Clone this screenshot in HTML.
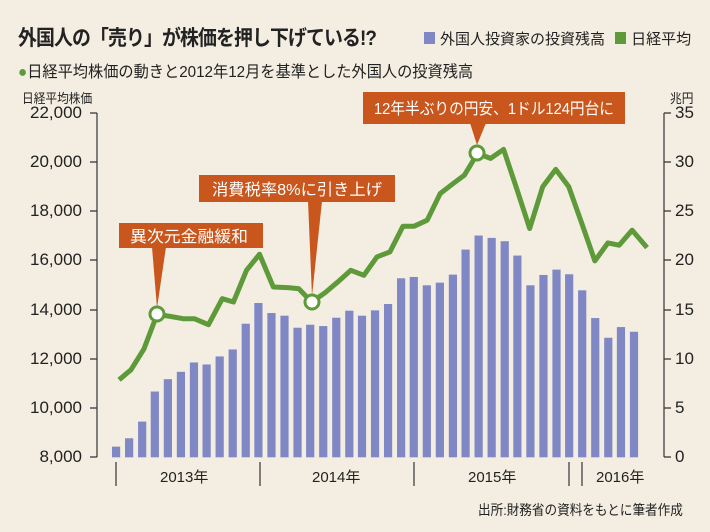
<!DOCTYPE html><html><head><meta charset="utf-8"><style>
body{margin:0;width:710px;height:532px;background:#f3eee1;font-family:"Liberation Sans","Noto Sans CJK JP",sans-serif;position:relative;overflow:hidden;color:#222}
.t{position:absolute;white-space:nowrap}
.c{transform-origin:0 0;transform:scaleX(0.9)}
</style></head><body>
<div class="t c" style="left:18px;top:22px;font-size:21px;font-weight:bold;letter-spacing:-1px;transform:scaleX(0.9)">外国人の「売り」が株価を押し下げている!?</div>
<div class="t c" style="left:424px;top:28px;font-size:15px;transform:none"><span style="display:inline-block;width:11px;height:12px;background:#8087c5;margin-right:5px"></span>外国人投資家の投資残高 <span style="display:inline-block;width:11px;height:12px;background:#5e9a3a;margin:0 5px 0 6px"></span>日経平均</div>
<div class="t c" style="left:18px;top:58px;font-size:16px;transform:scaleX(0.95)"><span style="color:#5e9a3a">●</span>日経平均株価の動きと2012年12月を基準とした外国人の投資残高</div>
<div class="t c" style="left:22px;top:88px;font-size:13px">日経平均株価</div>
<div class="t c" style="left:670px;top:88px;font-size:13px">兆円</div>
<div class="t" style="left:0;width:82px;text-align:right;top:104px;font-size:17px;line-height:18px">22,000</div>
<div class="t" style="left:0;width:82px;text-align:right;top:153px;font-size:17px;line-height:18px">20,000</div>
<div class="t" style="left:0;width:82px;text-align:right;top:202px;font-size:17px;line-height:18px">18,000</div>
<div class="t" style="left:0;width:82px;text-align:right;top:251px;font-size:17px;line-height:18px">16,000</div>
<div class="t" style="left:0;width:82px;text-align:right;top:301px;font-size:17px;line-height:18px">14,000</div>
<div class="t" style="left:0;width:82px;text-align:right;top:350px;font-size:17px;line-height:18px">12,000</div>
<div class="t" style="left:0;width:82px;text-align:right;top:399px;font-size:17px;line-height:18px">10,000</div>
<div class="t" style="left:0;width:82px;text-align:right;top:448px;font-size:17px;line-height:18px">8,000</div>
<div class="t" style="left:675px;top:104px;font-size:17px;line-height:18px">35</div>
<div class="t" style="left:675px;top:153px;font-size:17px;line-height:18px">30</div>
<div class="t" style="left:675px;top:202px;font-size:17px;line-height:18px">25</div>
<div class="t" style="left:675px;top:251px;font-size:17px;line-height:18px">20</div>
<div class="t" style="left:675px;top:301px;font-size:17px;line-height:18px">15</div>
<div class="t" style="left:675px;top:350px;font-size:17px;line-height:18px">10</div>
<div class="t" style="left:675px;top:399px;font-size:17px;line-height:18px">5</div>
<div class="t" style="left:675px;top:448px;font-size:17px;line-height:18px">0</div>
<div class="t" style="left:160px;top:466px;font-size:15px">2013年</div>
<div class="t" style="left:312px;top:466px;font-size:15px">2014年</div>
<div class="t" style="left:468px;top:466px;font-size:15px">2015年</div>
<div class="t" style="left:596px;top:466px;font-size:15px">2016年</div>
<div class="t c" style="left:478px;top:500px;font-size:14px">出所:財務省の資料をもとに筆者作成</div>
<svg width="710" height="532" style="position:absolute;left:0;top:0">
<g stroke="#333" stroke-width="1.2" fill="none">
<path d="M97 113V457M664 113V457"/>
<path d="M90 113H97M90 162H97M90 211H97M90 260H97M90 310H97M90 359H97M90 408H97M90 457H97"/>
<path d="M664 113H671M664 162H671M664 211H671M664 260H671M664 310H671M664 359H671M664 408H671M664 457H671"/>
<path d="M116 462V486M260 462V486M414 462V486M569 462V486M582 462V486"/>
</g>
<g transform="translate(90,130) scale(0.3726,0.334)" fill="#8087c5">
<rect x="59" y="948" width="22" height="32"/><rect x="94" y="923" width="22" height="57"/><rect x="129" y="873" width="22" height="107"/><rect x="163" y="783" width="22" height="197"/><rect x="198" y="746" width="22" height="234"/><rect x="233" y="724" width="22" height="256"/><rect x="268" y="696" width="22" height="284"/><rect x="302" y="702" width="22" height="278"/><rect x="337" y="678" width="22" height="302"/><rect x="372" y="657" width="22" height="323"/><rect x="407" y="580" width="22" height="400"/><rect x="441" y="518" width="22" height="462"/><rect x="476" y="548" width="22" height="432"/><rect x="511" y="556" width="22" height="424"/><rect x="546" y="592" width="22" height="388"/><rect x="580" y="583" width="22" height="397"/><rect x="615" y="587" width="22" height="393"/><rect x="650" y="562" width="22" height="418"/><rect x="685" y="541" width="22" height="439"/><rect x="719" y="556" width="22" height="424"/><rect x="754" y="540" width="22" height="440"/><rect x="789" y="521" width="22" height="459"/><rect x="824" y="444" width="22" height="536"/><rect x="858" y="440" width="22" height="540"/><rect x="893" y="465" width="22" height="515"/><rect x="928" y="457" width="22" height="523"/><rect x="963" y="433" width="22" height="547"/><rect x="997" y="358" width="22" height="622"/><rect x="1032" y="316" width="22" height="664"/><rect x="1067" y="323" width="22" height="657"/><rect x="1102" y="333" width="22" height="647"/><rect x="1136" y="376" width="22" height="604"/><rect x="1171" y="465" width="22" height="515"/><rect x="1206" y="434" width="22" height="546"/><rect x="1241" y="418" width="22" height="562"/><rect x="1275" y="432" width="22" height="548"/><rect x="1310" y="480" width="22" height="500"/><rect x="1345" y="563" width="22" height="417"/><rect x="1380" y="622" width="22" height="358"/><rect x="1414" y="590" width="22" height="390"/><rect x="1449" y="604" width="22" height="376"/>
<polyline vector-effect="non-scaling-stroke" fill="none" stroke="#5e9a3a" stroke-width="5" stroke-linejoin="round" points="78,748 110,718 145,655 180,552 215,558 250,565 280,565 318,583 355,505 385,515 420,420 455,372 492,470 530,472 560,475 595,515 630,488 665,455 700,420 735,435 770,380 805,365 840,288 870,288 905,270 940,190 975,160 1005,135 1040,70 1075,85 1110,58 1145,175 1180,295 1215,170 1250,118 1285,170 1320,280 1355,392 1390,338 1420,345 1455,300 1495,352"/>
</g>
<g fill="#c8561d">
<rect x="363" y="92" width="262" height="32"/><path d="M470 123L486 123L477 145Z"/>
<rect x="199" y="175" width="196" height="27"/><path d="M308 201L322 201L312 296Z"/>
<rect x="119" y="223" width="144" height="25"/><path d="M152 247L166 247L157 308Z"/>
</g>
<g fill="#fff" stroke="#5e9a3a" stroke-width="3">
<circle cx="157" cy="314" r="7"/><circle cx="312" cy="302" r="7"/><circle cx="477" cy="153" r="7"/>
</g>
<g fill="#fff" font-size="16" font-family="Liberation Sans,Noto Sans CJK JP,sans-serif">
<text x="374" y="114" textLength="240" lengthAdjust="spacingAndGlyphs">12年半ぶりの円安、1ドル124円台に</text>
<text x="212" y="195" textLength="170" lengthAdjust="spacingAndGlyphs">消費税率8%に引き上げ</text>
<text x="130" y="242" textLength="118" lengthAdjust="spacingAndGlyphs">異次元金融緩和</text>
</g>
</svg>
</body></html>
